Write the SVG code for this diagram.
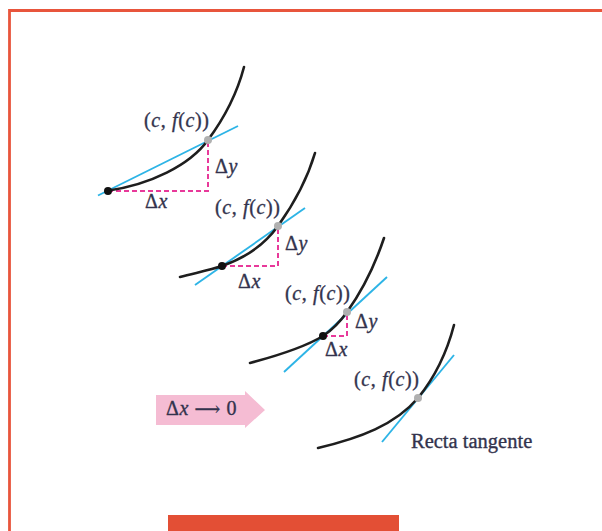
<svg xmlns="http://www.w3.org/2000/svg" width="602" height="531" viewBox="0 0 602 531">
<style>
.curve{fill:none;stroke:#1e1e1e;stroke-width:2.6;stroke-linecap:round}
.tan{fill:none;stroke:#2db4e6;stroke-width:1.9}
.dash{fill:none;stroke:#e8399a;stroke-width:2;stroke-dasharray:5 3}
.lbl{font-family:"Liberation Serif","Times New Roman",serif;font-size:20px;fill:#33334d;stroke:#33334d;stroke-width:0.35;letter-spacing:0.6px}
.it{font-style:italic}
.pt{fill:#111}
.gp{fill:#b0b0b0}
</style>
<rect width="602" height="531" fill="#ffffff"/>
<path d="M9.5,531 V10.5 H602" fill="none" stroke="#e8553c" stroke-width="2.8"/>
<rect x="168" y="515" width="231" height="16" fill="#e34f35"/>

<g id="connectors">
  <g id="stage1">
    <line class="tan" x1="98" y1="195.5" x2="238" y2="126"/>
    <path class="dash" d="M108,191 H208 V140"/>
    <path class="curve" d="M106,191 C150,185 190,165 208,140 C225,117 238,90 244,67"/>
    <circle class="pt" cx="108" cy="191" r="4"/>
    <circle class="gp" cx="208" cy="140" r="4"/>
  </g>
  <g id="stage2">
    <line class="tan" x1="195" y1="285" x2="305" y2="208"/>
    <path class="dash" d="M222,266 H278 V226"/>
    <path class="curve" d="M180,277 C195,273 210,270 222,266 C245,258 265,244 278,226 C293,205 307,180 315,153"/>
    <circle class="pt" cx="222" cy="266" r="4"/>
    <circle class="gp" cx="278" cy="226" r="4"/>
  </g>
  <g id="stage3">
    <line class="tan" x1="284" y1="372" x2="387" y2="277"/>
    <path class="dash" d="M323,336 H347 V312"/>
    <path class="curve" d="M250,363 C280,355 305,347 323,336 C332,330 340,322 347,312 C362,291 375,265 384,238"/>
    <circle class="pt" cx="323" cy="336" r="4"/>
    <circle class="gp" cx="347" cy="312" r="4"/>
  </g>
  <g id="stage4">
    <line class="tan" x1="382" y1="442" x2="454" y2="355"/>
    <path class="curve" d="M318,448 C360,438 395,425 418,398 C435,377 447,352 454,325"/>
    <circle class="gp" cx="418" cy="398" r="4"/>
  </g>
</g>

<g id="labels1">
  <text class="lbl" x="144" y="127">(<tspan class="it">c</tspan>, <tspan class="it">f</tspan>(<tspan class="it">c</tspan>))</text>
  <text class="lbl" x="215" y="173">Δ<tspan class="it">y</tspan></text>
  <text class="lbl" x="145" y="208">Δ<tspan class="it">x</tspan></text>
</g>
<g id="labels2">
  <text class="lbl" x="215" y="214">(<tspan class="it">c</tspan>, <tspan class="it">f</tspan>(<tspan class="it">c</tspan>))</text>
  <text class="lbl" x="285" y="250">Δ<tspan class="it">y</tspan></text>
  <text class="lbl" x="238" y="288">Δ<tspan class="it">x</tspan></text>
</g>
<g id="labels3">
  <text class="lbl" x="285" y="300">(<tspan class="it">c</tspan>, <tspan class="it">f</tspan>(<tspan class="it">c</tspan>))</text>
  <text class="lbl" x="355" y="328">Δ<tspan class="it">y</tspan></text>
  <text class="lbl" x="325" y="356">Δ<tspan class="it">x</tspan></text>
</g>
<g id="labels4">
  <text class="lbl" x="354" y="386">(<tspan class="it">c</tspan>, <tspan class="it">f</tspan>(<tspan class="it">c</tspan>))</text>
  <text class="lbl" x="411" y="448" style="letter-spacing:0;font-size:20.5px">Recta tangente</text>
</g>

<g id="limit-arrow">
  <path d="M156,395 H245 V391 L265,410 L245,428 V425 H156 Z" fill="#f5bcd3"/>
  <text class="lbl" x="166" y="415">Δ<tspan class="it">x</tspan> <tspan style="font-family:'DejaVu Serif',serif;font-size:18px">⟶</tspan> 0</text>
</g>
</svg>
